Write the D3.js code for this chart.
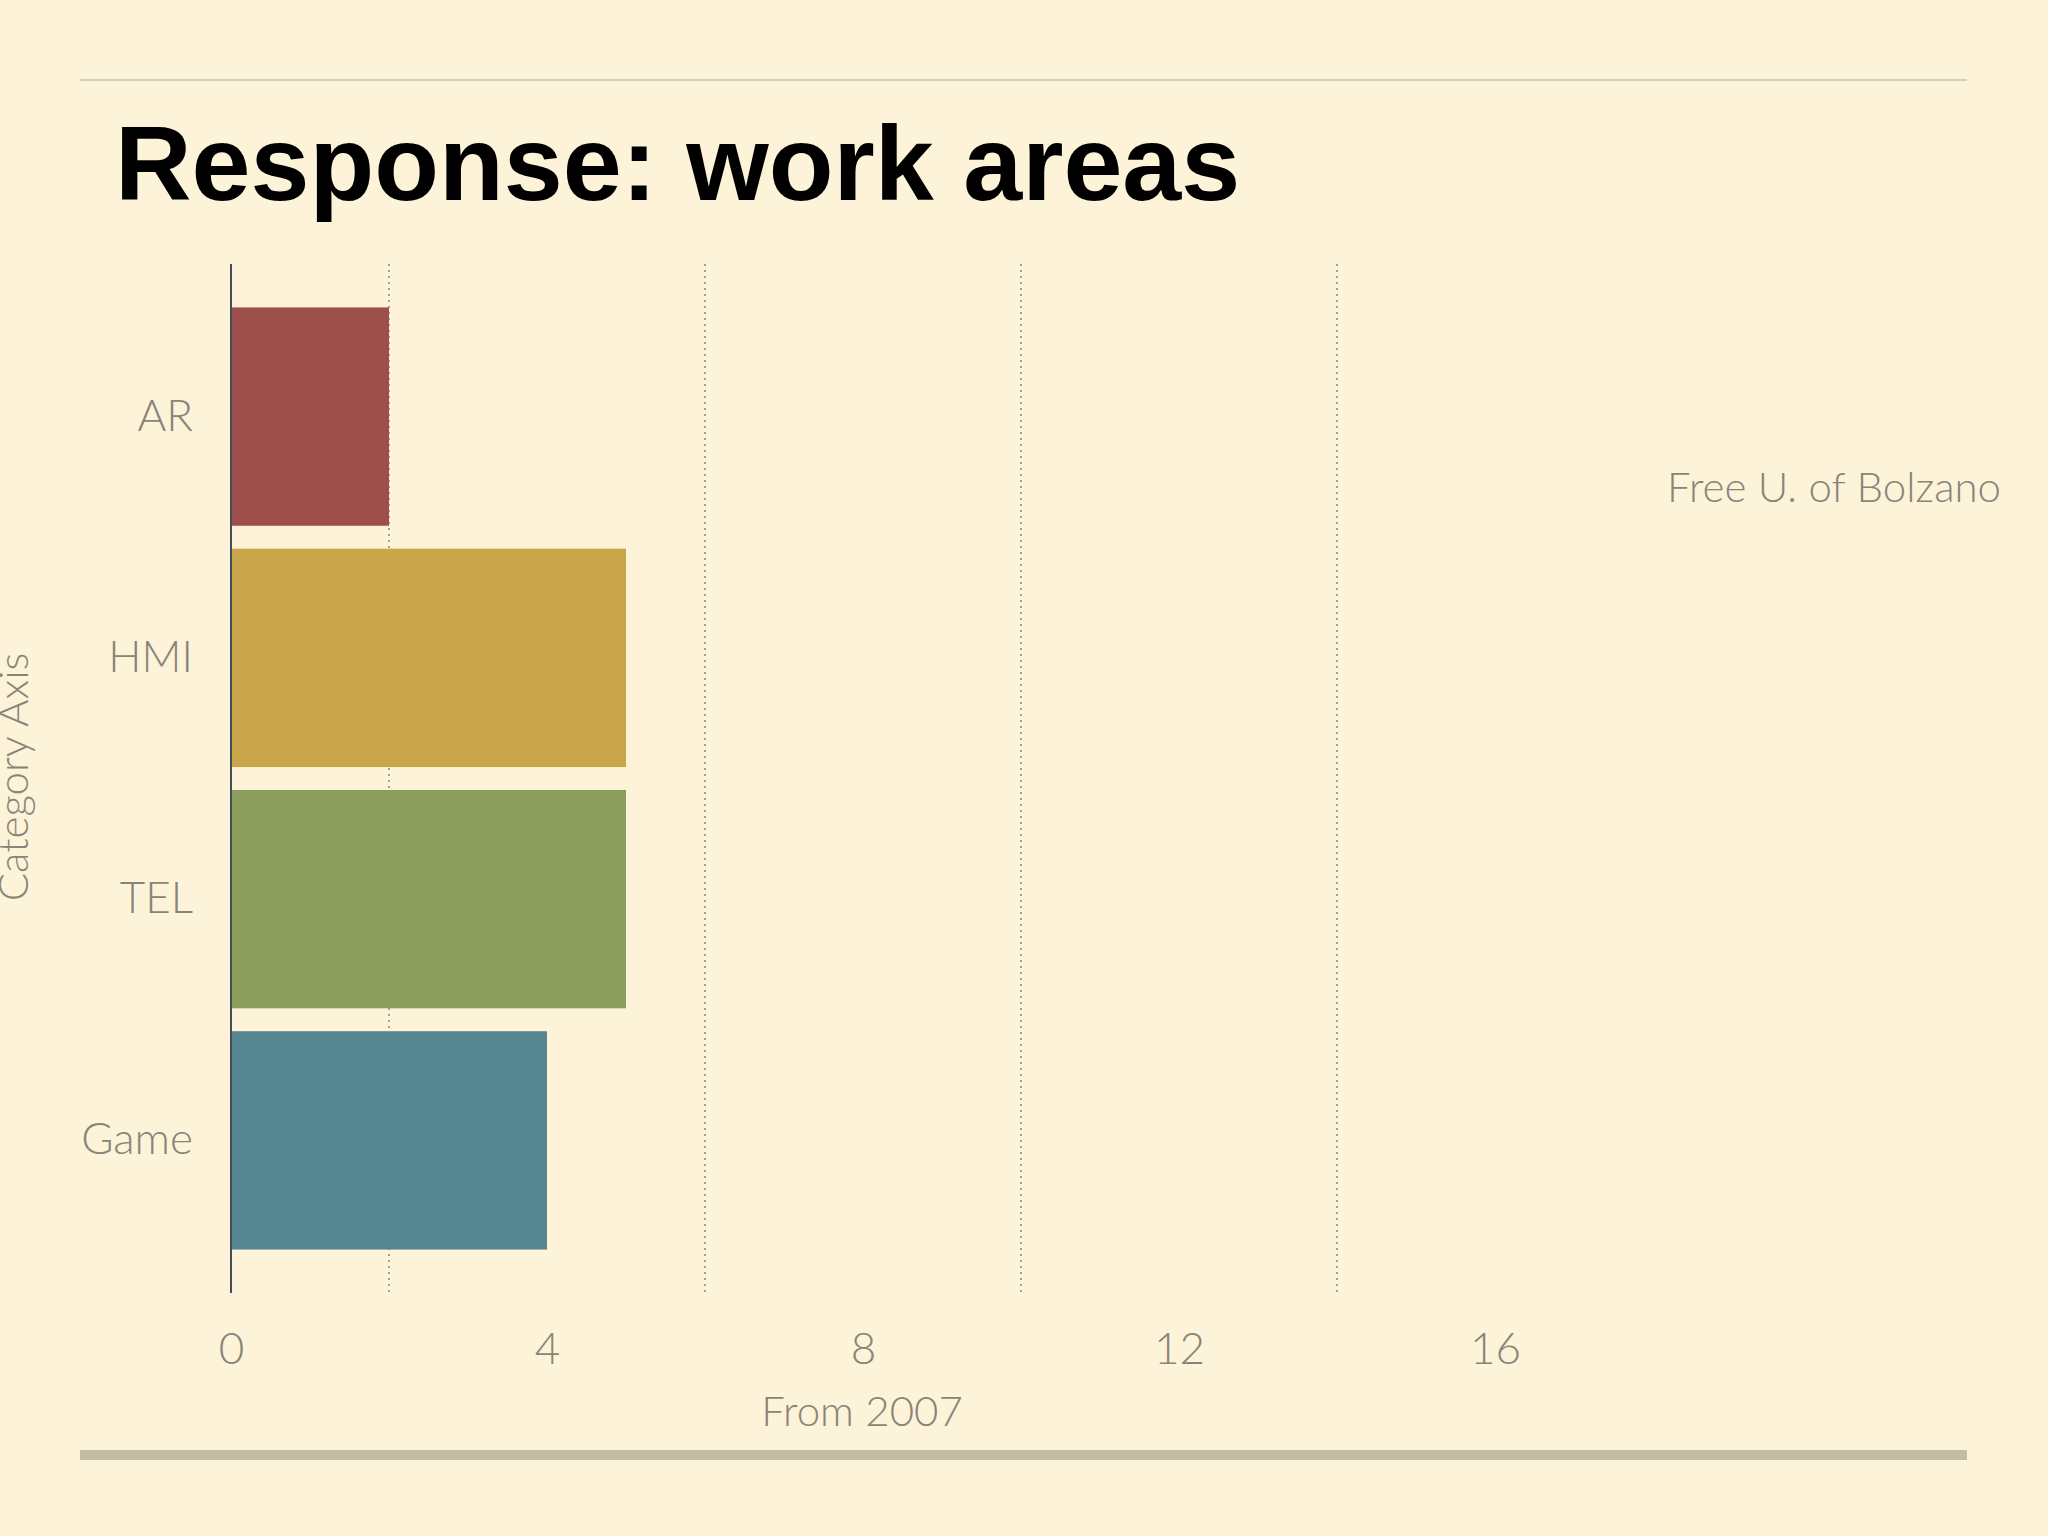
<!DOCTYPE html>
<html><head><meta charset="utf-8">
<script src="https://cdn.jsdelivr.net/npm/d3@7"></script>
<style>html,body{margin:0;padding:0;background:#fcf3d8;}</style>
</head><body>
<script>
const categories = ["AR","HMI","TEL","Game"];
const values = [2,5,5,4];
const colors = ["#9e4f4c","#c9a64a","#8c9d5b","#568790"];
const tickValues = [0,4,8,12,16];
const gridValues = [2,6,10,14];
const title = "Response: work areas";
const seriesName = "Free U. of Bolzano";
const xTitle = "From 2007";
const yTitle = "Category Axis";

const W=2048,H=1536;
const svg=d3.select("body").append("svg").attr("width",W).attr("height",H);
svg.append("rect").attr("width",W).attr("height",H).attr("fill","#fcf3d8");
const font="'Lato','Open Sans',sans-serif";
const x=d3.scaleLinear().domain([0,1]).range([231,310]);
const y=d3.scaleBand().domain(categories).range([264,1293]).paddingInner(0.095).paddingOuter(0.18);

svg.append("line").attr("x1",80).attr("x2",1967).attr("y1",80).attr("y2",80).attr("stroke","#c9c0aa").attr("stroke-width",1.5);
svg.append("line").attr("x1",80).attr("x2",1967).attr("y1",1455).attr("y2",1455).attr("stroke","#c4bba5").attr("stroke-width",10);
svg.append("text").attr("x",115).attr("y",200).text(title).attr("font-family","'Liberation Sans',Arial,sans-serif").attr("font-weight","bold").attr("font-size",106).attr("fill","#000");

svg.selectAll(".grid").data(gridValues).join("line").attr("x1",d=>x(d)).attr("x2",d=>x(d)).attr("y1",264).attr("y2",1293)
  .attr("stroke","#8a8478").attr("stroke-width",1.5).attr("stroke-dasharray","2,4");

svg.selectAll(".bar").data(categories).join("rect").attr("x",x(0)).attr("y",d=>y(d)).attr("height",y.bandwidth())
  .attr("width",(d,i)=>x(values[i])-x(0)).attr("fill",(d,i)=>colors[i]);

svg.append("line").attr("x1",x(0)).attr("x2",x(0)).attr("y1",264).attr("y2",1293).attr("stroke","#4a4a5e").attr("stroke-width",2);

const xa=svg.append("g").attr("transform","translate(0,1293)").call(d3.axisBottom(x).tickValues(tickValues).tickFormat(d3.format("d")).tickSize(0).tickPadding(40));
xa.select(".domain").remove();
xa.selectAll("text").attr("font-family",font).attr("font-weight",300).attr("font-size",44).attr("fill","#8a8478");
const ya=svg.append("g").attr("transform",`translate(${x(0)},0)`).call(d3.axisLeft(y).tickSize(0).tickPadding(38));
ya.select(".domain").remove();
ya.selectAll("text").attr("font-family",font).attr("font-weight",300).attr("font-size",44).attr("fill","#8a8478");

svg.append("text").attr("x",862).attr("y",1426).attr("text-anchor","middle").text(xTitle).attr("font-family",font).attr("font-weight",300).attr("font-size",42).attr("fill","#8a8478");
svg.append("text").attr("transform","translate(28,777) rotate(-90)").attr("text-anchor","middle").text(yTitle).attr("font-family",font).attr("font-weight",300).attr("font-size",42).attr("fill","#8a8478");
svg.append("text").attr("x",2001).attr("y",502).attr("text-anchor","end").text(seriesName).attr("font-family",font).attr("font-weight",300).attr("font-size",42).attr("fill","#8a8478");
</script>
</body></html>
